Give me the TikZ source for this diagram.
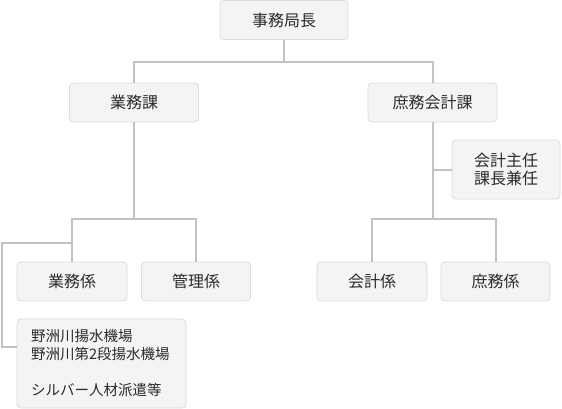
\documentclass[tikz,border=0pt]{standalone}
\usepackage{fontspec}
\newfontfamily\jp{Noto Sans CJK JP}
\definecolor{boxfill}{HTML}{F4F4F4}
\definecolor{boxline}{HTML}{DADADA}
\definecolor{conn}{HTML}{C2C2C2}
\definecolor{txt}{HTML}{2A2A2A}
\tikzset{
  orgbox/.style={draw=boxline, fill=boxfill, rounded corners=4pt, line width=0.8pt,
    text=txt, font=\jp\fontsize{16}{18}\selectfont, inner sep=0pt, align=center},
  conline/.style={draw=conn, line width=2pt}
}
\begin{document}
\begin{tikzpicture}[x=1pt,y=-1pt]
\useasboundingbox (0,0) rectangle (562,409);
\node[orgbox, minimum width=128pt, minimum height=39pt] (top) at (284,20) {事務局長};
\node[orgbox, minimum width=129pt, minimum height=39pt] (gyomu) at (134,102.5) {業務課};
\node[orgbox, minimum width=129pt, minimum height=39pt] (shomu) at (432.5,102.5) {庶務会計課};
\node[orgbox, minimum width=108pt, minimum height=59pt] (shunin) at (506,169.5) {会計主任\\課長兼任};
\node[orgbox, minimum width=110pt, minimum height=39pt] (gk) at (72,281.5) {業務係};
\node[orgbox, minimum width=109pt, minimum height=39pt] (kanri) at (196,281.5) {管理係};
\node[orgbox, minimum width=110pt, minimum height=39pt] (kaikei) at (372,281.5) {会計係};
\node[orgbox, minimum width=109pt, minimum height=39pt] (shomuk) at (495.5,281.5) {庶務係};
\node[orgbox, minimum width=169pt, minimum height=89pt, align=left, text width=141pt,
  inner xsep=14pt, font=\jp\fontsize{14.5}{18}\selectfont] (pump) at (101.5,363.5)
  {野洲川揚水機場\\野洲川第2段揚水機場\\[18pt]シルバー人材派遣等};
\coordinate (j1) at (284,62);
\coordinate (j2) at (134,219);
\coordinate (j3) at (432.5,219);
\coordinate (b1) at (72,243);
\coordinate (c2) at (2,347);
\draw[conline] (top.south) -- (j1);
\draw[conline] (gyomu.north) |- (j1) -| (shomu.north);
\draw[conline] (gyomu.south) -- (j2);
\draw[conline] (gk.north) |- (j2) -| (kanri.north);
\draw[conline] (b1) -| (c2) -- (c2 -| pump.west);
\draw[conline] (shomu.south) -- (j3);
\draw[conline] (kaikei.north) |- (j3) -| (shomuk.north);
\draw[conline] (shunin.west) -- (shunin.west -| shomu.south);
\end{tikzpicture}
\end{document}
